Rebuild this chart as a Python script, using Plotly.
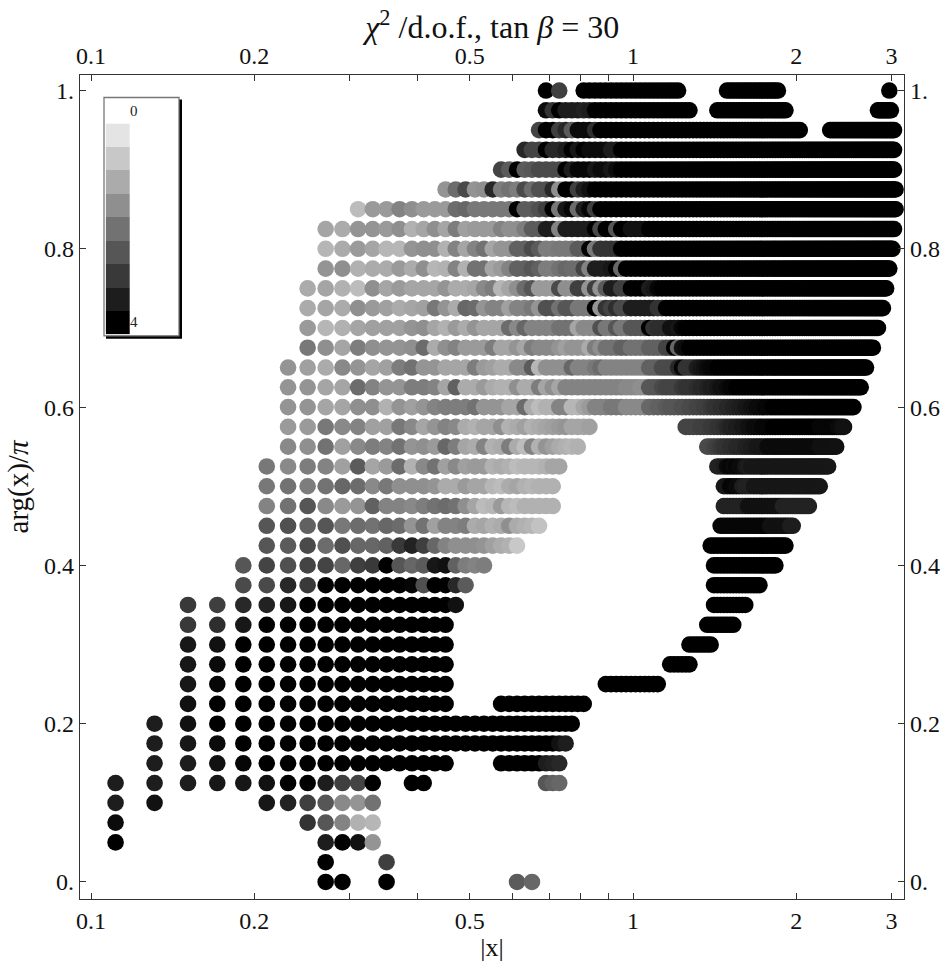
import plotly.graph_objects as go

# arg(x)/pi of each scan row
arg_rows = [0.0, 0.025, 0.05, 0.075, 0.1, 0.125, 0.15, 0.175, 0.2, 0.225, 0.25, 0.275, 0.3, 0.325, 0.35, 0.375,
            0.4, 0.425, 0.45, 0.475, 0.5, 0.525, 0.55, 0.575, 0.6, 0.625, 0.65, 0.675, 0.7, 0.725, 0.75, 0.775,
            0.8, 0.825, 0.85, 0.875, 0.9, 0.925, 0.95, 0.975, 1.0]

# Each row: segments of the |x| scan (step 0.02). (first |x|, [chi2 x 10 per point]) or (first, last, chi2 x 10)
row_00 = [(0.271, [40, 40]), (0.351, [40]), (0.611, [24]), (0.651, [22])]
row_01 = [(0.271, [40]), (0.351, [29])]
row_02 = [(0.111, [40]), (0.271, [35, 40, 37, 14])]
row_03 = [(0.111, [38]), (0.251, [31, 25, 17, 9, 8])]
row_04 = [(0.111, [35, 37]), (0.211, [36, 34, 29, 25, 16, 14, 20])]
row_05 = [(0.111, [35, 35, 35, 36, 36, 37, 40, 40, 35, 29, 28, 40]), (0.391, [40, 40]), (0.691, [25, 23, 22])]
row_06 = [(0.131, [35, 35, 37, 39]), (0.211, 0.451, 40), (0.571, 0.671, 40), (0.691, [35, 34, 33])]
row_07 = [(0.131, [35, 36, 38]), (0.191, 0.711, 40), (0.731, [37, 35])]
row_08 = [(0.131, [35, 37]), (0.171, 0.771, 40)]
row_09 = [(0.151, [37]), (0.171, 0.451, 40), (0.571, 0.811, 40)]
row_10 = [(0.151, [36, 39]), (0.191, 0.451, 40), (0.891, 1.111, 40)]
row_11 = [(0.151, [36, 38]), (0.191, 0.451, 40), (1.171, 1.271, 40)]
row_12 = [(0.151, [36, 37]), (0.191, 0.451, 40), (1.271, 1.391, 40)]
row_13 = [(0.151, [30, 32, 36]), (0.211, 0.451, 40), (1.371, 1.531, 40)]
row_14 = [(0.151, [30, 29, 33, 34, 36]), (0.251, 0.451, 40), (0.471, [37]), (1.411, 1.611, 40)]
row_15 = [(0.191, [27, 27, 33, 30, 40, 40, 40, 40, 40, 40, 39, 26, 40, 40, 33, 24]), (1.411, 1.711, 40)]
row_16 = [(0.191, [25, 28, 26, 28, 28, 22, 29, 30, 40, 25, 22, 24, 36, 37, 23, 18, 17, 18]), (1.411, 1.831, 40)]
row_17 = [(0.211, [25, 24, 27, 21, 26, 22, 22, 23, 30, 34, 29, 22, 17, 15, 15, 15, 14, 12, 10, 9, 5]), (1.391, 1.911, 40)]
row_18 = [(0.211, [25, 26, 23, 25, 19, 21, 20, 22, 21, 14, 20, 12, 17, 17, 18, 10, 11, 9, 10, 15, 10, 9, 8, 6]),
          (1.451, 1.771, 39), (1.791, 1.931, 37), (1.951, 1.971, 35)]
row_19 = [(0.211, [17, 20, 25, 16, 13, 14, 23, 17, 17, 16, 18, 20, 21, 20, 15, 11, 7, 8, 13, 8, 7, 9, 9, 9, 9, 9]),
          (1.471, 1.611, 34), (1.631, 1.871, 37), (1.891, 2.111, 34)]
row_20 = [(0.211, [19, 20, 18, 20, 22, 21, 16, 19, 15, 15, 15, 14, 10, 10, 13, 11, 11, 8, 7, 10, 11, 9, 8, 9, 9, 9]),
          (1.471, [36, 36, 39, 39, 38, 38, 35, 34, 34, 34]), (1.671, 2.211, 36)]
row_21 = [(0.211, [19, 16, 18, 17, 12, 24, 11, 13, 21, 9, 16, 20, 12, 16, 12, 13, 13, 9, 10, 9, 7, 8, 8, 8, 9, 11, 11]),
          (1.431, [34, 34, 35, 38, 39, 38, 39, 38, 38, 36, 35]), (1.651, 2.291, 36)]
row_22 = [(0.231, [16, 15, 20, 12, 16, 18, 17, 20, 14, 15, 13, 22, 18, 11, 10, 17, 9, 10, 18, 10, 7, 17, 9, 14, 12, 10, 9, 8, 9]),
          (1.371, [27, 27, 28, 29, 30, 31, 31, 32, 32, 33, 33, 33, 34, 34, 35, 35, 36, 36, 36, 36]),
          (1.771, 2.191, 38), (2.211, 2.371, 37)]
row_23 = [(0.231, [13, 13, 19, 16, 17, 12, 12, 19, 16, 11, 14, 17, 16, 10, 9, 11, 11, 15, 9, 10, 12, 9, 10, 11, 12, 13, 14, 11, 11, 11, 12]),
          (1.251, [28, 28, 28, 28, 29, 29, 29, 30, 30, 31, 31, 32, 33, 34, 34, 35, 35, 36, 36, 37, 37, 38, 38, 38, 39, 39, 39, 39]),
          (1.811, 2.191, 40), (2.211, 2.371, 39), (2.391, [38, 38, 37, 37])]
row_24 = [(0.231, [14, 14, 11, 11, 15, 15, 9, 14, 12, 14, 17, 18, 18, 18, 20, 14, 14, 14, 11, 11, 21, 10, 7, 9, 9, 17, 17, 8, 8, 11, 13,
                   17, 17, 17, 19, 19, 19, 16, 16, 16, 16, 16, 22, 22, 23, 23, 24, 25, 25, 25, 26, 26, 27, 27, 28, 28, 29, 29, 30, 31,
                   31, 32, 32, 33, 33, 34, 34, 35, 35, 36, 36, 37, 37, 38, 38, 38, 39, 39, 39]), (1.811, 2.551, 40)]
row_25 = [(0.231, [14, 14, 11, 11, 21, 17, 14, 14, 18, 18, 17, 11, 23, 10, 10, 13, 10, 9, 9, 15, 10, 10, 18, 11, 15, 11, 17, 17, 17, 17,
                   17, 17, 17, 17, 17, 17, 17, 16, 16, 16, 15, 15, 25, 25, 25, 27, 28, 28, 28, 28, 30, 31, 31, 31, 32, 33, 33, 34, 35,
                   35, 36, 37, 37, 38, 39, 39]), (1.551, 2.631, 40)]
row_26 = [(0.231, [14, 12, 10, 16, 14, 11, 12, 18, 20, 14, 14, 11, 11, 11, 18, 13, 12, 10, 10, 16, 16, 24, 8, 15, 15, 15, 15, 22, 17, 17,
                   17, 19, 21, 17, 17, 17, 17, 17, 17, 17, 17, 17, 23, 23, 23, 27, 27, 27, 27, 33, 39, 31, 31, 31, 35, 36, 37, 38, 39,
                   39]), (1.431, 2.691, 40)]
row_27 = [(0.251, [19, 15, 11, 18, 15, 14, 14, 15, 21, 10, 15, 17, 13, 13, 13, 18, 11, 11, 14, 11, 18, 16, 16, 16, 14, 12, 14, 14, 14, 10,
                   18, 15, 20, 20, 20, 23, 23, 20, 20, 20, 20, 23, 23, 23, 23, 28, 28, 40, 22, 37, 38]), (1.271, 2.771, 40)]
row_28 = [(0.251, [13, 8, 9, 11, 12, 12, 12, 14, 15, 11, 9, 13, 10, 14, 11, 11, 11, 21, 16, 22, 17, 17, 17, 17, 20, 20, 20, 11, 16, 16,
                   16, 26, 19, 19, 25, 19, 19, 25, 25, 25, 25, 40, 31, 32, 32, 32, 37, 37, 36, 39]), (1.251, 2.831, 40)]
row_29 = [(0.251, [10, 11, 10, 15, 13, 12, 10, 11, 12, 19, 14, 10, 22, 21, 14, 17, 17, 12, 17, 17, 19, 14, 26, 26, 20, 25, 25, 19, 19, 19,
                   40, 14, 31, 28, 32, 27, 27, 35, 35, 35, 35, 35, 35, 31, 31]), (1.151, 2.891, 40)]
row_30 = [(0.251, [10, 11, 9, 7, 15, 11, 13, 11, 11, 11, 14, 10, 10, 11, 16, 18, 8, 11, 15, 21, 25, 13, 13, 13, 27, 15, 15, 29, 29, 14,
                   29, 14, 24, 35, 35, 29, 29, 40, 40, 40, 40, 35, 36, 39]), (1.131, 2.931, 40)]
row_31 = [(0.271, [14, 15, 9, 10, 10, 13, 10, 15, 8, 9, 17, 9, 20, 20, 11, 13, 17, 23, 23, 25, 23, 18, 18, 20, 22, 21, 21, 28, 17, 35,
                   35, 35, 36, 40, 22]), (0.971, 2.971, 40)]
row_32 = [(0.271, [8, 10, 13, 11, 8, 8, 14, 15, 15, 9, 17, 11, 17, 20, 11, 14, 14, 23, 23, 27, 24, 18, 18, 19, 19, 19, 24, 24, 40, 19,
                   31, 31, 31, 31]), (0.951, 3.011, 40)]
row_33 = [(0.271, [11, 10, 14, 14, 13, 15, 9, 11, 15, 11, 18, 12, 13, 13, 13, 17, 15, 15, 18, 24, 24, 35, 35, 17, 35, 35, 35, 35, 35, 40,
                   27, 40, 40, 25, 40, 40, 37, 37, 37, 37]), (1.071, 3.031, 40)]
row_34 = [(0.311, [7, 13, 13, 17, 15, 13, 13, 13, 21, 22, 19, 19, 19, 19, 19, 40, 24, 24, 26, 29, 40, 19, 36, 39, 21, 35, 39, 29]),
          (0.871, 3.051, 40)]
row_35 = [(0.451, [14, 21, 27, 14, 15, 33, 18, 20, 18, 27, 21, 26, 26, 33, 15, 40, 40, 29, 35, 37]), (0.851, 3.051, 40)]
row_36 = [(0.571, [28, 24, 40, 24, 25, 27, 27, 27, 27, 40, 35, 39, 39, 39, 36, 38, 38, 36, 38]), (0.951, 3.031, 40)]
row_37 = [(0.631, [33, 28, 28, 40, 33, 33, 35, 40, 36, 40, 38, 38, 38, 38, 35, 35]), (0.951, 3.031, 40)]
row_38 = [(0.671, [28, 40, 40, 29, 33, 24, 38, 38, 38, 32]), (0.871, 2.031, 40), (2.311, 3.031, 40)]
row_39 = [(0.691, [38, 31, 40, 35, 35, 35, 34, 35]), (0.851, 1.271, 40), (1.431, 1.911, 40), (2.831, 2.991, 40)]
row_40 = [(0.691, [40]), (0.731, [29]), (0.811, 1.211, 40), (1.491, 1.851, 40), (2.971, [40])]

rows = [row_00, row_01, row_02, row_03, row_04, row_05, row_06, row_07, row_08, row_09, row_10,
        row_11, row_12, row_13, row_14, row_15, row_16, row_17, row_18, row_19, row_20,
        row_21, row_22, row_23, row_24, row_25, row_26, row_27, row_28, row_29, row_30,
        row_31, row_32, row_33, row_34, row_35, row_36, row_37, row_38, row_39, row_40]

# Key levels, tick values and labels
key_levels = [4, 3.5, 3, 2.5, 2, 1.5, 1, 0.5, 0]
x_ticks = [0.1, 0.2, 0.5, 1, 2, 3]
x_labels = ["0.1", "0.2", "0.5", "1", "2", "3"]
x_minor = [0.3, 0.4, 0.6, 0.7, 0.8, 0.9]
y_ticks = [0, 0.2, 0.4, 0.6, 0.8, 1.0]
y_labels = ["0.", "0.2", "0.4", "0.6", "0.8", "1."]

FONT = "Liberation Serif"
INK = "#333333"
TEXT = "#111111"
GREYS = [[0, "rgb(228,228,228)"], [1, "rgb(0,0,0)"]]
W, H = 943, 962
L, R, T, B = 80, 904, 74.5, 899


def expand(row):
    xs, vals = [], []
    for seg in row:
        if len(seg) == 2:
            for k, v in enumerate(seg[1]):
                xs.append(round(seg[0] + 0.02 * k, 3))
                vals.append(v / 10)
        else:
            n = int(round((seg[1] - seg[0]) / 0.02))
            for k in range(n + 1):
                xs.append(round(seg[0] + 0.02 * k, 3))
                vals.append(seg[2] / 10)
    return xs, vals


px, py, pc = [], [], []
for a, row in zip(arg_rows, rows):
    xs, vals = expand(row)
    px += xs
    py += [a] * len(xs)
    pc += vals

fig = go.Figure()
fig.add_trace(go.Scatter(
    x=px, y=py, mode="markers", cliponaxis=False, hoverinfo="skip",
    marker=dict(size=16.6, color=pc, cmin=0, cmax=4, colorscale=GREYS, showscale=False, line=dict(width=0)),
))
fig.add_trace(go.Heatmap(
    z=[[v] for v in key_levels], zmin=0, zmax=4, colorscale=GREYS, showscale=False,
    xaxis="x3", yaxis="y3", hoverinfo="skip",
))
fig.add_trace(go.Scatter(x=[0.1], y=[0], xaxis="x2", yaxis="y2", mode="markers", marker=dict(opacity=0), hoverinfo="skip"))

xr = [-1.0203, 0.5]
yr = [-0.0215, 1.0196]
common = dict(showgrid=False, zeroline=False, automargin=False, ticks="inside", ticklen=6, tickwidth=1, tickcolor=INK,
              showline=True, linecolor=INK, linewidth=1.3, tickfont=dict(family=FONT, size=24, color=TEXT))
minor = dict(tickmode="array", tickvals=x_minor, ticks="inside", ticklen=6, tickwidth=1, tickcolor=INK, showgrid=False)

fig.update_layout(
    width=W, height=H, paper_bgcolor="white", plot_bgcolor="white", showlegend=False,
    margin=dict(l=L, r=W - R, t=T, b=H - B),
    font=dict(family=FONT, color=TEXT),
    title=dict(text="<i>χ</i><sup>2</sup> /d.o.f., tan <i>β</i> = 30", x=0.522, xanchor="center", y=0.972, yanchor="middle",
               font=dict(family=FONT, size=32, color=TEXT)),
    xaxis=dict(type="log", range=xr, tickmode="array", tickvals=x_ticks, ticktext=x_labels, minor=minor,
               title=dict(text="|x|", font=dict(family=FONT, size=26, color=TEXT), standoff=8), **common),
    xaxis2=dict(type="log", range=xr, overlaying="x", side="top", tickmode="array", tickvals=x_ticks, ticktext=x_labels,
                minor=minor, anchor="y", **common),
    yaxis=dict(range=yr, tickmode="array", tickvals=y_ticks, ticktext=y_labels,
               title=dict(text="arg(x)/<i>π</i>", font=dict(family=FONT, size=29, color=TEXT), standoff=6), **common),
    yaxis2=dict(range=yr, overlaying="y", side="right", tickmode="array", tickvals=y_ticks, ticktext=y_labels,
                anchor="x", **common),
    # Inset key: its heatmap on its own hidden axes
    xaxis3=dict(domain=[(105.7 - L) / (R - L), (130 - L) / (R - L)], visible=False, anchor="y3", fixedrange=True),
    yaxis3=dict(domain=[(B - 334) / (B - T), (B - 123) / (B - T)], visible=False, anchor="x3", fixedrange=True),
)
fig.update_layout(shapes=[
    dict(type="rect", xref="paper", yref="paper", layer="below", x0=(106 - L) / (R - L), x1=(182 - L) / (R - L),
         y0=(B - 338.5) / (B - T), y1=(B - 99) / (B - T), fillcolor="black", line=dict(width=0)),
    dict(type="rect", xref="paper", yref="paper", layer="below", x0=(104 - L) / (R - L), x1=(179 - L) / (R - L),
         y0=(B - 335.5) / (B - T), y1=(B - 97) / (B - T), fillcolor="white", line=dict(color="#777777", width=1.3)),
], annotations=[
    dict(text="0", xref="paper", yref="paper", x=(134 - L) / (R - L), y=(B - 111) / (B - T), showarrow=False,
         font=dict(family=FONT, size=15, color="#222222"), xanchor="center", yanchor="middle"),
    dict(text="4", xref="paper", yref="paper", x=(134 - L) / (R - L), y=(B - 322) / (B - T), showarrow=False,
         font=dict(family=FONT, size=15, color="#222222"), xanchor="center", yanchor="middle"),
])

fig.write_html("out.html", config={"displayModeBar": False},
               post_script="document.body.style.margin='0';document.body.style.overflow='hidden';")
